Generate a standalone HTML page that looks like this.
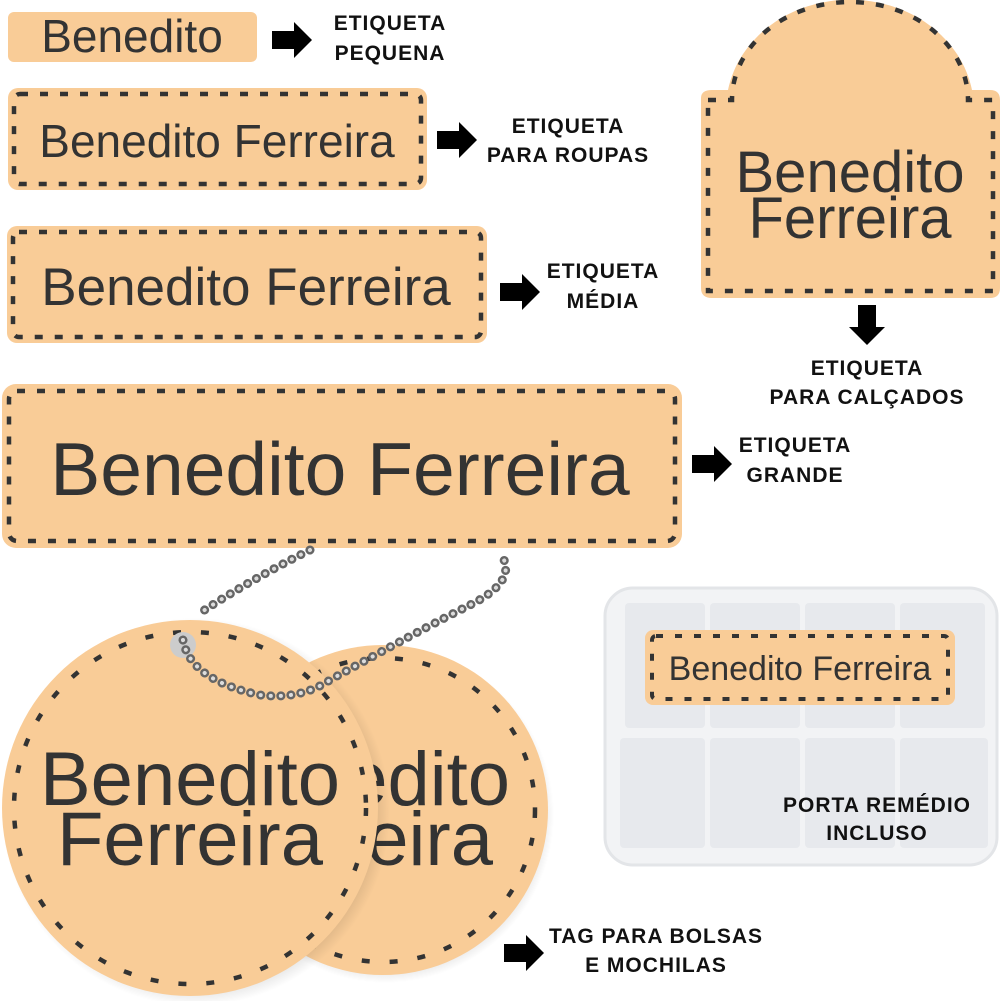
<!DOCTYPE html>
<html><head><meta charset="utf-8"><style>
html,body{margin:0;padding:0;background:#fff}
svg{display:block}
.t{font-family:"Liberation Sans",sans-serif;fill:#333}
.l{font-family:"Liberation Sans",sans-serif;font-weight:bold;fill:#111;font-size:21px;letter-spacing:1px;text-anchor:middle}
</style></head><body>
<svg width="1001" height="1001" viewBox="0 0 1001 1001" xmlns="http://www.w3.org/2000/svg">
<defs>
<g id="ar"><path d="M0,-9 H22 V-18 L40,0 L22,18 V9 H0 Z" fill="#000"/></g>
<radialGradient id="sh" cx="0.5" cy="0.5" r="0.5"><stop offset="0.8" stop-color="#000" stop-opacity="0.25"/><stop offset="1" stop-color="#000" stop-opacity="0"/></radialGradient>
</defs>
<g fill="#f9cc97">
<rect x="8" y="12" width="249" height="50" rx="6"/>
<rect x="8" y="88" width="419" height="102" rx="10"/>
<rect x="7" y="226" width="480" height="117" rx="10"/>
<rect x="2" y="384" width="680" height="164" rx="14"/>
<path d="M701,98 Q701,90 712,90 L728,90 A124,110 0 0 1 972,90 L990,90 Q1000,90 1000,100 L1000,288 Q1000,298 990,298 L712,298 Q701,298 701,288 Z"/>
</g>
<g fill="none" stroke="#333" stroke-width="4.5" stroke-dasharray="8,12">
<rect x="14" y="94" width="407" height="90" rx="6"/>
<rect x="13" y="232" width="468" height="105" rx="6"/>
<rect x="9" y="391" width="666" height="150" rx="8"/>
<path d="M708,100 L732,100 A118,98 0 0 1 968,100 L993,100 L993,291 L708,291 Z"/>
</g>
<text class="t" x="132" y="52" font-size="46" text-anchor="middle">Benedito</text>
<text class="t" x="217" y="157" font-size="46" text-anchor="middle">Benedito Ferreira</text>
<text class="t" x="246" y="305" font-size="53" text-anchor="middle">Benedito Ferreira</text>
<text class="t" x="340" y="495" font-size="75" text-anchor="middle">Benedito Ferreira</text>
<text class="t" x="850" y="192" font-size="58" text-anchor="middle">Benedito</text>
<text class="t" x="850" y="238" font-size="58" text-anchor="middle">Ferreira</text>

<use href="#ar" x="272" y="40"/>
<text class="l" x="390" y="30">ETIQUETA</text><text class="l" x="390" y="60">PEQUENA</text>
<use href="#ar" x="437" y="140"/>
<text class="l" x="568" y="133">ETIQUETA</text><text class="l" x="568" y="162">PARA ROUPAS</text>
<use href="#ar" x="500" y="292"/>
<text class="l" x="603" y="278">ETIQUETA</text><text class="l" x="603" y="308">MÉDIA</text>
<use href="#ar" x="692" y="464"/>
<text class="l" x="795" y="452">ETIQUETA</text><text class="l" x="795" y="482">GRANDE</text>
<use href="#ar" transform="translate(867,305) rotate(90)"/>
<text class="l" x="867" y="375">ETIQUETA</text><text class="l" x="867" y="404">PARA CALÇADOS</text>
<use href="#ar" x="504" y="953"/>
<text class="l" x="656" y="943">TAG PARA BOLSAS</text><text class="l" x="656" y="972">E MOCHILAS</text>

<!-- pill box -->
<rect x="605" y="588" width="392" height="277" rx="28" fill="#f2f3f5" stroke="#e3e5e8" stroke-width="3"/>
<g fill="#e7e9ed">
<rect x="625" y="603" width="80" height="125" rx="4"/><rect x="710" y="603" width="90" height="125" rx="4"/><rect x="805" y="603" width="90" height="125" rx="4"/><rect x="900" y="603" width="85" height="125" rx="4"/>
<rect x="620" y="738" width="85" height="110" rx="4"/><rect x="710" y="738" width="90" height="110" rx="4"/><rect x="805" y="738" width="90" height="110" rx="4"/><rect x="900" y="738" width="88" height="110" rx="4"/>
</g>
<rect x="645" y="630" width="310" height="75" rx="8" fill="#f9cc97"/>
<rect x="652" y="636" width="296" height="63" rx="4" fill="none" stroke="#333" stroke-width="4" stroke-dasharray="7,12"/>
<text class="t" x="800" y="680" font-size="34" text-anchor="middle">Benedito Ferreira</text>
<text class="l" x="877" y="812">PORTA REMÉDIO</text><text class="l" x="877" y="840">INCLUSO</text>

<!-- tags -->
<circle cx="386" cy="815" r="168" fill="url(#sh)"/>
<circle cx="383" cy="810" r="165" fill="#f9cc97"/>
<circle cx="383" cy="810" r="152" fill="none" stroke="#333" stroke-width="4.5" stroke-dasharray="8,20"/>
<text class="t" x="360" y="805" font-size="76" text-anchor="middle">Benedito</text>
<text class="t" x="360" y="865" font-size="76" text-anchor="middle">Ferreira</text>
<circle cx="196" cy="812" r="194" fill="url(#sh)"/>
<circle cx="190" cy="808" r="188" fill="#f9cc97"/>
<circle cx="190" cy="808" r="176" fill="none" stroke="#333" stroke-width="4.5" stroke-dasharray="8,20"/>
<text class="t" x="190" y="805" font-size="76" text-anchor="middle">Benedito</text>
<text class="t" x="190" y="865" font-size="76" text-anchor="middle">Ferreira</text>
<circle cx="183" cy="645" r="13" fill="#ccc"/>
<path d="M310,550 Q250,580 200,613 M183,640 Q190,680 260,695 Q300,700 330,680 Q420,630 470,605 Q520,580 500,553" fill="none" stroke="#666" stroke-width="9" stroke-dasharray="0.1,10" stroke-linecap="round"/>
<path d="M310,550 Q250,580 200,613 M183,640 Q190,680 260,695 Q300,700 330,680 Q420,630 470,605 Q520,580 500,553" fill="none" stroke="#ddd" stroke-width="4" stroke-dasharray="0.1,10" stroke-linecap="round"/>
</svg>
</body></html>
